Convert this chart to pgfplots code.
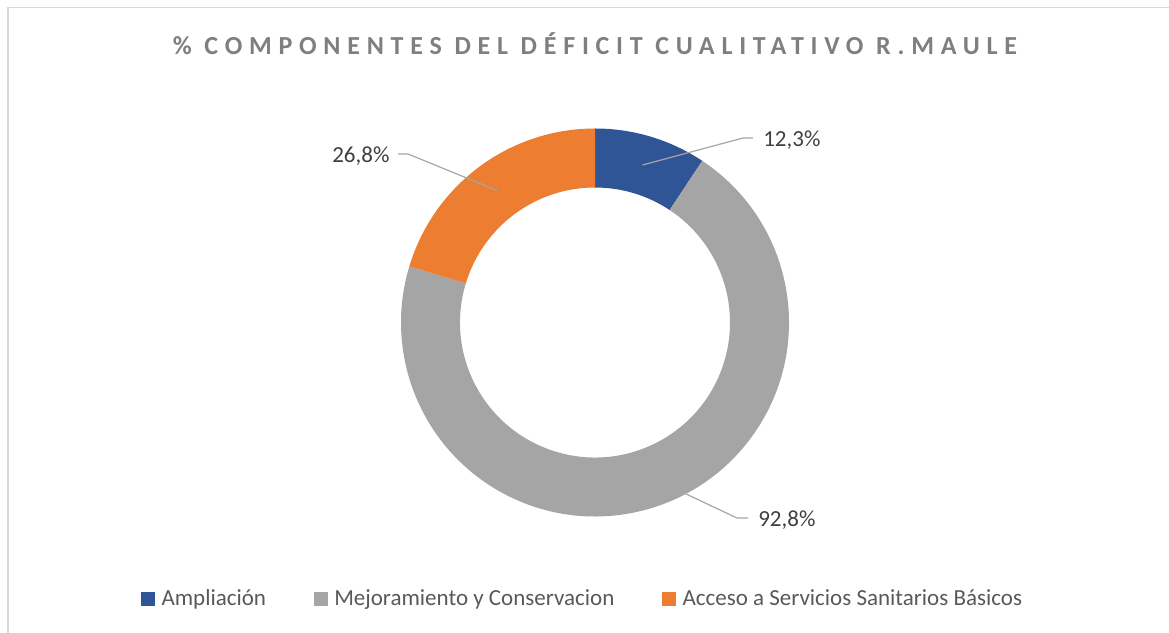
\documentclass[border=0pt]{standalone}
\usepackage{fontspec}
\setmainfont{Carlito}
\newfontfamily\titlefont[LetterSpace=26]{Carlito}
\usepackage{pgfplots}
\usepackage{pgfplotstable}
\pgfplotsset{compat=1.18}

\definecolor{ampblue}{HTML}{2F5597}
\definecolor{mejgray}{HTML}{A5A5A5}
\definecolor{accorange}{HTML}{ED7D31}
\definecolor{titlegray}{HTML}{7F7F7F}
\definecolor{labelgray}{HTML}{404040}
\definecolor{legendgray}{HTML}{595959}
\definecolor{leadergray}{HTML}{A6A6A6}
\definecolor{bordergray}{HTML}{D9D9D9}

\pgfplotstableread[col sep=comma]{
name,value
Ampliación,12.3
Mejoramiento y Conservacion,92.8
Acceso a Servicios Sanitarios Básicos,26.8
}\donutdata

\pgfplotstablegetelem{0}{value}\of\donutdata \let\vA\pgfplotsretval
\pgfplotstablegetelem{1}{value}\of\donutdata \let\vB\pgfplotsretval
\pgfplotstablegetelem{2}{value}\of\donutdata \let\vC\pgfplotsretval
\pgfmathsetmacro\total{\vA+\vB+\vC}
% wedge edges, clockwise from 12 o'clock
\pgfmathsetmacro\aO{90}
\pgfmathsetmacro\aA{\aO-360*(\vA/\total)}
\pgfmathsetmacro\aB{\aA-360*(\vB/\total)}
\pgfmathsetmacro\aC{\aB-360*(\vC/\total)}
\pgfmathsetmacro\mA{(\aO+\aA)/2}
\pgfmathsetmacro\mB{(\aA+\aB)/2}
\pgfmathsetmacro\mC{(\aB+\aC)/2}

% ring piece: start angle, end angle, colour (radii 194 / 135 axis units)
\newcommand\ringpart[3]{%
  \fill[#3] (axis cs:{194*cos(#1)},{194*sin(#1)})
    arc[start angle=#1, end angle=#2, radius=145.5pt]
    -- (axis cs:{135*cos(#2)},{135*sin(#2)})
    arc[start angle=#2, end angle=#1, radius=101.25pt] -- cycle;}

\newcommand\lblfont{\fontsize{17.25}{20}\selectfont}

\begin{document}
\begin{tikzpicture}
\begin{axis}[
  x=0.75pt, y=0.75pt,
  xmin=-595, xmax=574, ymin=-309.5, ymax=322.5,
  hide axis, clip=false,
  legend columns=3,
  legend image code/.code={\fill[#1] (0pt,-4.875pt) rectangle (9.75pt,4.875pt);},
  legend style={draw=none, fill=none, at={(axis cs:-12,-276)}, anchor=center,
    font=\lblfont, text=legendgray,
    /tikz/every odd column/.append style={column sep=3pt},
    /tikz/every even column/.append style={column sep=34pt}},
]
\draw[bordergray, line width=0.9pt] (axis cs:-587,-330) -- (axis cs:-587,315) -- (axis cs:600,315);

\node[font=\titlefont\fontsize{19.5}{22}\selectfont\bfseries, text=titlegray, anchor=base]
  at (axis cs:0,267.5) {\% COMPONENTES DEL DÉFICIT CUALITATIVO R.MAULE};

\ringpart{\aO}{\aA}{ampblue}
\ringpart{\aA}{\aB}{mejgray}
\ringpart{\aB}{\aC}{accorange}

\draw[leadergray, line width=0.9pt] (axis cs:{164.5*cos(\mA)},{164.5*sin(\mA)}) -- (axis cs:148,184.5) -- (axis cs:158,184.5);
\draw[leadergray, line width=0.9pt] (axis cs:{164.5*cos(\mB)},{164.5*sin(\mB)}) -- (axis cs:142,-195.5) -- (axis cs:153,-195.5);
\draw[leadergray, line width=0.9pt] (axis cs:{164.5*cos(\mC)},{164.5*sin(\mC)}) -- (axis cs:-187,168.5) -- (axis cs:-197,168.5);

\node[font=\lblfont, text=labelgray, anchor=base west, inner sep=0pt] at (axis cs:168,175.5) {12,3\%};
\node[font=\lblfont, text=labelgray, anchor=base west, inner sep=0pt] at (axis cs:163,-203.5) {92,8\%};
\node[font=\lblfont, text=labelgray, anchor=base west, inner sep=0pt] at (axis cs:-263,159.5) {26,8\%};

\addlegendimage{ampblue}
\addlegendentry{Ampliación}
\addlegendimage{mejgray}
\addlegendentry{Mejoramiento y Conservacion}
\addlegendimage{accorange}
\addlegendentry{Acceso a Servicios Sanitarios Básicos}

\coordinate (SW) at (axis cs:-595,-309.5);
\coordinate (NE) at (axis cs:574,322.5);
\end{axis}
\pgfresetboundingbox
\path[use as bounding box] (SW) rectangle (NE);
\end{tikzpicture}
\end{document}
